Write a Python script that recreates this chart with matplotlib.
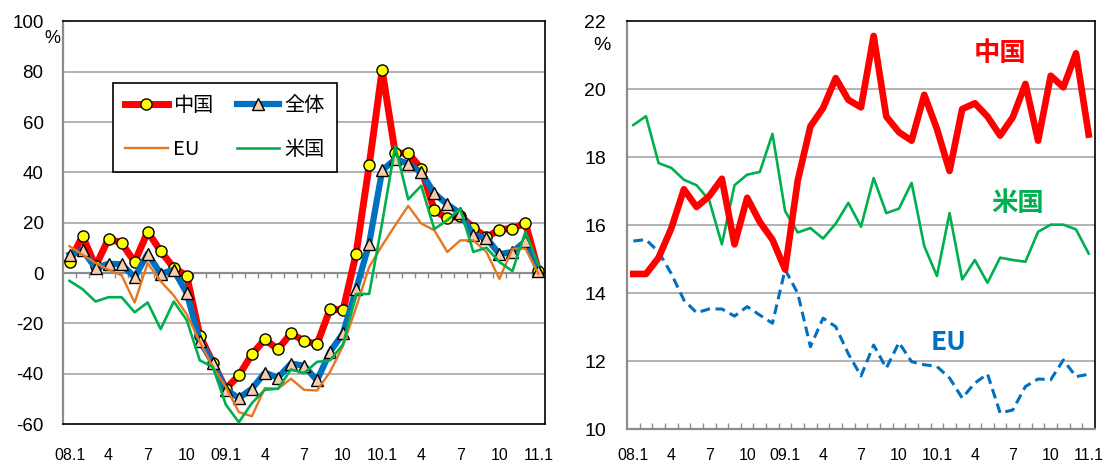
import numpy as np
import matplotlib
matplotlib.use("Agg")
import matplotlib.pyplot as plt

# ---------------- data ----------------
months = list(range(37))  # 2008.1 ... 2011.1
tick_pos = list(range(0, 37, 3))
tick_labels = ["08.1", "4", "7", "10", "09.1", "4", "7", "10",
               "10.1", "4", "7", "10", "11.1"]

# left panel: growth rate (%)
china_growth = [4.4, 14.7, 2.7, 13.7, 11.9, 4.4, 16.4, 8.7, 2.1, -1.1,
                -24.9, -35.6, -46.0, -40.7, -32.3, -26.4, -30.3, -24.0, -26.9,
                -28.3, -14.3, -14.7, 7.7, 42.8, 80.7, 47.7, 47.7, 41.5, 25.0,
                21.7, 22.8, 18.0, 14.2, 17.3, 17.7, 19.9, 0.8]
total_growth = [7.3, 9.1, 2.0, 3.7, 3.5, -1.7, 7.7, -0.3, 1.3, -8.0,
                -27.0, -35.6, -46.4, -49.7, -46.0, -39.6, -41.6, -36.0, -36.8,
                -42.7, -31.3, -23.9, -6.5, 11.7, 40.8, 45.3, 43.5, 40.0, 31.7,
                27.3, 23.7, 15.1, 14.0, 7.5, 8.4, 12.7, 1.0]
eu_growth = [10.7, 7.3, 4.0, 1.3, -0.9, -11.7, 4.0, -3.3, -8.9, -16.4,
             -27.3, -37.3, -45.3, -55.3, -56.9, -45.7, -46.0, -42.0, -46.4,
             -46.7, -39.3, -28.9, -13.6, 2.4, 11.0, 19.0, 26.7, 19.7, 17.0,
             8.4, 13.0, 13.0, 8.4, -2.3, 9.7, 9.7, -0.3]
us_growth = [-3.1, -6.4, -11.3, -9.6, -9.6, -15.6, -11.7, -22.3, -11.3, -18.7,
             -34.7, -37.3, -52.3, -59.3, -51.7, -46.4, -46.0, -38.3, -39.8,
             -35.3, -34.7, -28.3, -8.3, -8.3, 20.0, 50.4, 29.3, 34.7, 17.5,
             21.0, 25.5, 8.4, 10.1, 4.4, 0.8, 16.4, 3.0]

# right panel: share (%)
china_share = [14.56, 14.56, 15.04, 15.9, 17.05, 16.53, 16.85, 17.36, 15.43,
               16.8, 16.09, 15.57, 14.69, 17.31, 18.9, 19.44, 20.32, 19.68,
               19.46, 21.56, 19.19, 18.73, 18.48, 19.83, 18.83, 17.59, 19.41,
               19.58, 19.19, 18.63, 19.17, 20.15, 18.48, 20.39, 20.05, 21.05,
               18.66]
us_share = [18.94, 19.2, 17.82, 17.68, 17.33, 17.17, 16.73, 15.43, 17.17,
            17.48, 17.56, 18.68, 16.41, 15.78, 15.91, 15.6, 16.04, 16.65,
            15.95, 17.38, 16.35, 16.48, 17.24, 15.38, 14.5, 16.35, 14.4,
            14.97, 14.3, 15.04, 14.97, 14.92, 15.8, 16.01, 16.01, 15.87, 15.16]
eu_share = [15.53, 15.57, 15.21, 14.57, 13.79, 13.42, 13.53, 13.53, 13.32,
            13.6, 13.35, 13.11, 14.69, 13.99, 12.42, 13.26, 13.01, 12.21,
            11.56, 12.47, 11.79, 12.54, 11.98, 11.89, 11.84, 11.5, 10.91,
            11.35, 11.62, 10.47, 10.56, 11.25, 11.47, 11.45, 12.03, 11.54,
            11.61]

# ---------------- style ----------------
RED = "#ff0000"
BLUE = "#0070c0"
ORANGE = "#e8761f"
GREEN = "#00b050"
GRID = "#a6a6a6"
AXGRAY = "#8c8c8c"
CJK = ["Noto Sans CJK JP", "DejaVu Sans"]
LAT = ["Liberation Sans", "DejaVu Sans"]

plt.rcParams["font.family"] = LAT

fig = plt.figure(figsize=(11.04, 4.65), dpi=100)
fig.patch.set_facecolor("white")

# ================= left panel =================
axL = fig.add_axes([63 / 1104, 1 - 424 / 465, (545 - 63) / 1104, (424 - 21.5) / 465])
axL.set_xlim(-0.5, 36.5)
axL.set_ylim(-60, 100)
axL.set_yticks(range(-60, 101, 20))
axL.set_yticklabels([str(v) for v in range(-60, 101, 20)])
for v in range(-40, 100, 20):
    if v != 0:
        axL.axhline(v, color=GRID, lw=1.2, zorder=0)
axL.axhline(0, color=AXGRAY, lw=1.6, zorder=1)
axL.vlines(np.arange(0.5, 36, 1), -2.0, 0, color=AXGRAY, lw=1.0, zorder=1)

axL.spines["left"].set_color(AXGRAY)
axL.spines["left"].set_linewidth(1.6)
for s in ("top", "right", "bottom"):
    axL.spines[s].set_color("black")
    axL.spines[s].set_linewidth(1.2)

axL.set_xticks(tick_pos)
axL.set_xticklabels(tick_labels)
axL.tick_params(axis="x", length=0, pad=17, labelsize=11.5)
axL.tick_params(axis="y", length=0, pad=14, labelsize=13.5)

l_china, = axL.plot(months, china_growth, color=RED, lw=5, marker="o",
                    markersize=8, markerfacecolor="#ffff00",
                    markeredgecolor="black", markeredgewidth=1.0, zorder=3,
                    label="中国")
l_total, = axL.plot(months, total_growth, color=BLUE, lw=4.5, marker="^",
                    markersize=8, markerfacecolor="#f8cbad",
                    markeredgecolor="black", markeredgewidth=1.0, zorder=4,
                    label="全体")
l_eu, = axL.plot(months, eu_growth, color=ORANGE, lw=1.7, zorder=5, label="EU")
l_us, = axL.plot(months, us_growth, color=GREEN, lw=1.9, zorder=6, label="米国")

leg = axL.legend([l_china, l_eu, l_total, l_us], ["中国", "EU", "全体", "米国"],
                 ncol=2, loc="upper left", bbox_to_anchor=(0.104, 0.847),
                 borderaxespad=0, frameon=True, fancybox=False,
                 handlelength=2.1, handletextpad=0.25, columnspacing=1.2,
                 labelspacing=1.15, borderpad=0.6,
                 prop={"family": CJK, "size": 14.5})
leg.get_frame().set_edgecolor("black")
leg.get_frame().set_linewidth(1.2)
leg.get_frame().set_alpha(1)
leg.set_zorder(10)

fig.text(52 / 1104, 1 - 38 / 465, "%", ha="center", va="center", fontsize=13)

# ================= right panel =================
axR = fig.add_axes([627 / 1104, 1 - 429 / 465, (1095 - 627) / 1104, (429 - 21) / 465])
axR.set_xlim(-0.5, 36.5)
axR.set_ylim(10, 22)
axR.set_yticks(range(10, 23, 2))
for v in range(12, 22, 2):
    axR.axhline(v, color=GRID, lw=1.2, zorder=0)
axR.spines["left"].set_color(AXGRAY)
axR.spines["left"].set_linewidth(1.6)
axR.spines["bottom"].set_color(AXGRAY)
axR.spines["bottom"].set_linewidth(1.6)
for s in ("top", "right"):
    axR.spines[s].set_color("black")
    axR.spines[s].set_linewidth(1.2)
axR.set_xticks(tick_pos)
axR.set_xticklabels(tick_labels)
axR.set_xticks(np.arange(0.5, 36, 1), minor=True)
axR.tick_params(axis="x", which="major", length=0, pad=14, labelsize=11.5)
axR.tick_params(axis="x", which="minor", direction="in", length=4,
                color=AXGRAY, width=1.0)
axR.tick_params(axis="y", length=0, pad=15, labelsize=14)

axR.plot(months, us_share, color=GREEN, lw=1.9, zorder=3)
axR.plot(months, eu_share, color=BLUE, lw=2.2, dashes=(3.2, 1.8), zorder=3)
axR.plot(months, china_share, color=RED, lw=4.8, zorder=4)

axR.text(29.0, 21.05, "中国", color=RED, fontsize=19, fontweight="bold",
         family=CJK, ha="center", va="center")
axR.text(30.4, 16.64, "米国", color=GREEN, fontsize=19, fontweight="bold",
         family=CJK, ha="center", va="center")
axR.text(24.9, 12.53, "EU", color=BLUE, fontsize=19, fontweight="bold",
         family=CJK, ha="center", va="center")

fig.text(602 / 1104, 1 - 45 / 465, "%", ha="center", va="center", fontsize=14)

fig.savefig("out.png", dpi=100, facecolor="white")
